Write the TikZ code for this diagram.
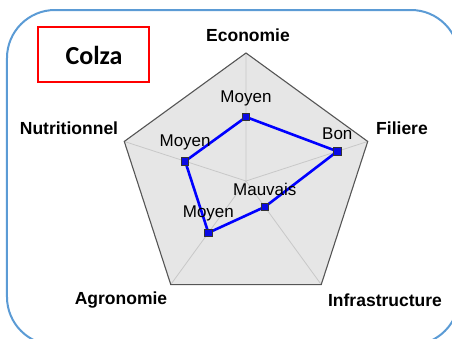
\documentclass[tikz,border=0pt]{standalone}
\usepackage{fontspec}
\setmainfont{Liberation Sans}
\newfontfamily\calibrifont{Carlito}
\usepackage{tikz}

\definecolor{framebl}{RGB}{91,155,213}
\definecolor{webfill}{RGB}{230,230,230}
\definecolor{webline}{RGB}{85,85,85}
\definecolor{spoke}{RGB}{200,200,200}
\definecolor{ptfill}{RGB}{10,10,230}

\begin{document}
\begin{tikzpicture}[x=1pt, y=1pt,
        axis/.style = {font=\bfseries\fontsize{17.5}{20}\selectfont, inner sep=0pt},
        val/.style = {font=\fontsize{17}{19}\selectfont, inner sep=1pt},
        pt/.style = {rectangle, draw=black!80, fill=ptfill, line width=0.8pt,
            minimum size=7.5pt, inner sep=0pt},
        data/.style = {blue, line width=2.6pt, line join=round}]

        \useasboundingbox (-246,-157) rectangle (206,181);

        % Frame
        \draw[framebl, line width=2pt, rounded corners=48pt] (-239,-164) rectangle (213,171);

        % Title box
        \draw[red, line width=1.8pt] (-208,154) rectangle (-97,99);
        \node[font=\calibrifont\bfseries\fontsize{26}{30}\selectfont] (title) at (-152,126) {Colza};

        % Web
        \coordinate (O) at (0,0);
        \coordinate (E) at (90:128);
        \coordinate (F) at (18:128);
        \coordinate (I) at (-54:128);
        \coordinate (A) at (-126:128);
        \coordinate (N) at (162:128);
        \fill[webfill] (E) -- (F) -- (I) -- (A) -- (N) -- cycle;
        \draw[spoke, line width=0.8pt] (O) -- (E) (O) -- (F) (O) -- (I) (O) -- (A) (O) -- (N);
        \draw[webline, line width=1.1pt] (E) -- (F) -- (I) -- (A) -- (N) -- cycle;

        % Axis labels
        \node[axis] (lE) at (2,146) {Economie};
        \node[axis] (lF) at (156,53) {Filiere};
        \node[axis] (lN) at (-177,53) {Nutritionnel};
        \node[axis] (lA) at (-125,-119) {Agronomie};
        \node[axis] (lI) at (139,-119) {Infrastructure};

        % Values
        \coordinate (cE) at (90:64);
        \coordinate (cF) at (18:96);
        \coordinate (cI) at (-54:32);
        \coordinate (cA) at (-126:64);
        \coordinate (cN) at (162:64);
        \draw[data] (cE) -- (cF) -- (cI) -- (cA) -- (cN) -- cycle;

        \node[pt, label={[val, label distance=6pt]above:Moyen}] (pE) at (cE) {};
        \node[pt, label={[val, label distance=6pt]above:Bon}] (pF) at (cF) {};
        \node[pt, label={[val, label distance=6pt]above:Mauvais}] (pI) at (cI) {};
        \node[pt, label={[val, label distance=6pt]above:Moyen}] (pA) at (cA) {};
        \node[pt, label={[val, label distance=6pt]above:Moyen}] (pN) at (cN) {};

    \end{tikzpicture}
\end{document}
